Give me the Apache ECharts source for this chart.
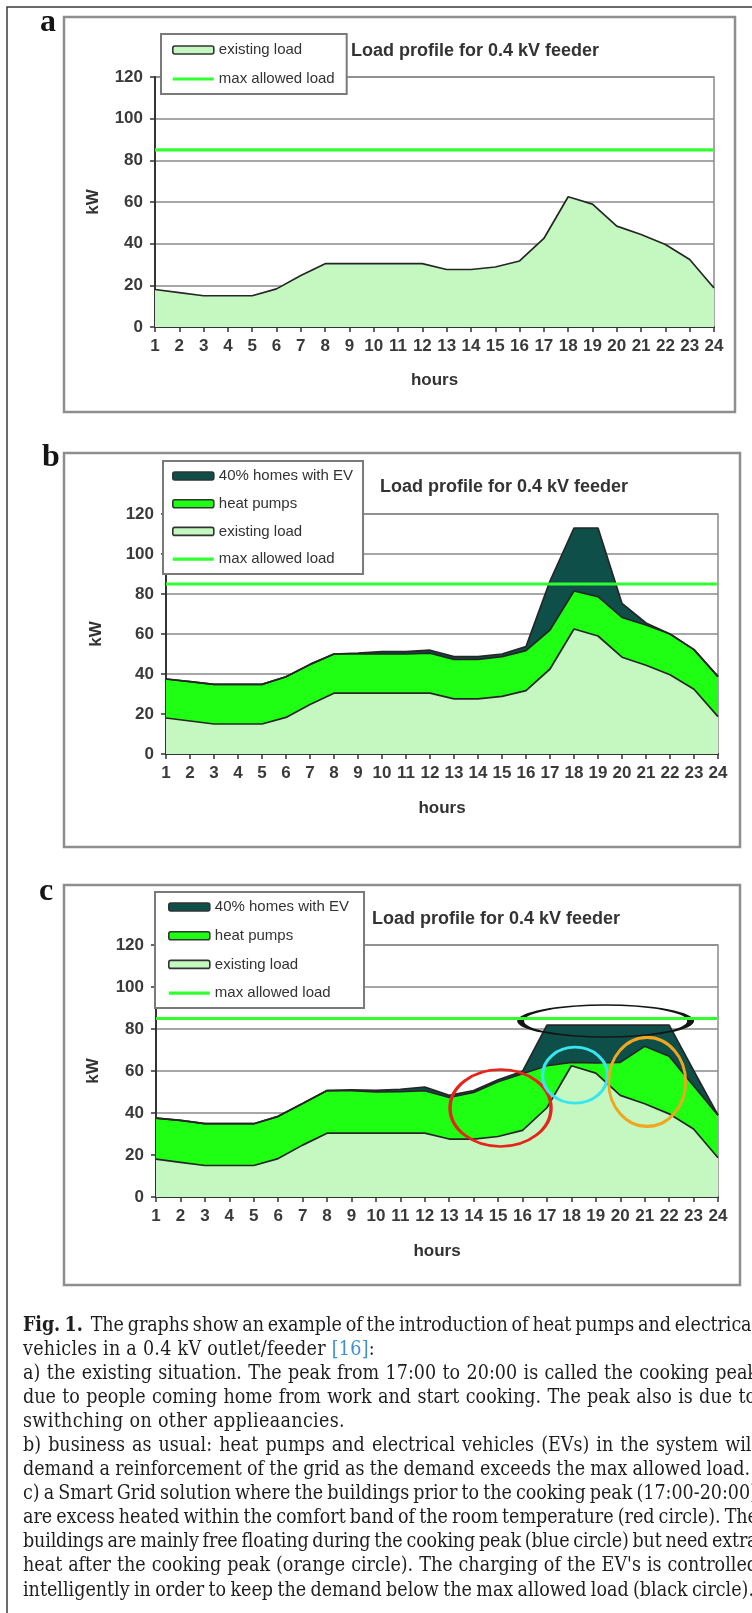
<!DOCTYPE html>
<html><head><meta charset="utf-8">
<script src="https://cdn.jsdelivr.net/npm/echarts@6/dist/echarts.min.js"></script>
<style>
html,body{margin:0;padding:0;width:752px;height:1613px;overflow:hidden;background:#fff;}
#chart{position:absolute;left:0;top:0;width:752px;height:1613px;}
#caption{position:absolute;left:23px;top:1312.5px;font-family:'DejaVu Serif Condensed','DejaVu Serif','Liberation Serif',serif;font-stretch:condensed;font-size:19.5px;color:#1e1e1e;}
#caption .ln{height:24.1px;line-height:24.1px;white-space:nowrap;}
#caption .ln span.t{display:inline-block;}
#caption .ref{color:#3f8fd2;}
</style></head><body>
<div id="chart"></div>
<div id="caption"></div>
<script>
// ---------------- data ----------------
const hours = ['1','2','3','4','5','6','7','8','9','10','11','12','13','14','15','16','17','18','19','20','21','22','23','24'];
const existingLoad = [18, 16.5, 15, 15, 15, 18.3, 24.7, 30.4, 30.4, 30.4, 30.4, 30.4, 27.6, 27.6, 28.8, 31.7, 42.5, 62.5, 59, 48.4, 44.4, 39.6, 32.4, 18.7];
const heatPumpsB  = [19.5, 19.7, 19.8, 19.8, 19.8, 20.3, 20.1, 19.6, 19.6, 19.6, 19.6, 20, 19.7, 19.7, 19.9, 20, 19.5, 19, 19.7, 19.9, 20.1, 20.4, 19.8, 20];
const evB         = [0, 0, 0, 0, 0, 0, 0, 0, 0.5, 1.2, 1.2, 1.5, 1.4, 1.4, 1.3, 2, 24.5, 31.5, 34.3, 7, 1, 0, 0, 0];
const heatPumpsC  = [19.6, 20, 19.9, 19.9, 19.9, 20.1, 19.8, 20.3, 20.3, 19.6, 19.8, 20.2, 19.8, 22.2, 26.1, 27, 20, 1.6, 4.8, 15.7, 27.4, 27.4, 20.6, 20.3];
const evC         = [0, 0, 0, 0, 0, 0, 0, 0, 0.3, 0.8, 1.1, 1.7, 1, 0.9, 0.9, 1.1, 19.3, 17.7, 18, 17.7, 10, 14.8, 7.3, 0];
const maxLoad     = [85, 85, 85, 85, 85, 85, 85, 85, 85, 85, 85, 85, 85, 85, 85, 85, 85, 85, 85, 85, 85, 85, 85, 85];
const yTicks = [0, 20, 40, 60, 80, 100, 120];
// annotation ellipses in chart c: centre [hour, kW], size [w, h] px
const circleNames = ['red', 'blue', 'orange', 'black'];
const circleAt = [[15.1, 42.4], [18.15, 58], [21.1, 54.8], [19.4, 83.8]];
const circleSize = [[101, 77], [65, 56], [77, 89], [170, 32]];
const circleColor = ['#e8231c', '#38e6f0', '#efa620', '#151515'];
const panelLetters = ['a', 'b', 'c'];
const chartTitle = 'Load profile for 0.4 kV feeder';
const names = {ex: 'existing load', hp: 'heat pumps', ev: '40% homes with EV', max: 'max allowed load'};

const captionLines = [
  '<b>Fig.&nbsp;1.</b>&nbsp; The graphs show an example of the introduction of heat pumps and electrical',
  'vehicles in a 0.4 kV outlet/feeder <span class="ref">[16]</span>:',
  'a) the existing situation. The peak from 17:00 to 20:00 is called the cooking peak',
  'due to people coming home from work and start cooking. The peak also is due to',
  'swithching on other applieaancies.',
  'b) business as usual: heat pumps and electrical vehicles (EVs) in the system will',
  'demand a reinforcement of the grid as the demand exceeds the max allowed load.',
  'c) a Smart Grid solution where the buildings prior to the cooking peak (17:00-20:00)',
  'are excess heated within the comfort band of the room temperature (red circle). The',
  'buildings are mainly free floating during the cooking peak (blue circle) but need extra',
  'heat after the cooking peak (orange circle). The charging of the EV\'s is controlled',
  'intelligently in order to keep the demand below the max allowed load (black circle).'
];
const captionWidths = [734, 352, 735, 733, 322, 734, 727, 734, 735, 734, 735, 731];
const captionJustify = [1, 0, 1, 1, 0, 1, 1, 1, 1, 1, 1, 1];

// ---------------- styles ----------------
const FONT = "'Liberation Sans', Arial, sans-serif";
const C_EX = '#c5f8c0', C_HP = '#1eff14', C_EV = '#0f4f49', C_MAX = '#30ff30';
const EDGE = '#262626';

const grids = [
  {left: 155, top: 77, width: 559, height: 250},
  {left: 166, top: 514, width: 552, height: 240},
  {left: 156, top: 945, width: 562, height: 252}
];
const yNameGap = [53, 61, 54];
const xNameGap = [45, 46, 46];

function xAxis(i) {
  return {
    type: 'category', gridIndex: i, data: hours, boundaryGap: false,
    name: 'hours', nameLocation: 'middle', nameGap: xNameGap[i],
    nameTextStyle: {fontFamily: FONT, fontSize: 17, fontWeight: 'bold', color: '#333'},
    axisLine: {show: true, lineStyle: {color: '#333', width: 2}},
    axisTick: {show: true, interval: 0, length: 5, lineStyle: {color: '#333', width: 1.5}},
    axisLabel: {interval: 0, margin: 11, fontFamily: FONT, fontSize: 17, fontWeight: 'bold', color: '#3a3a3a'},
    splitLine: {show: false}
  };
}
function yAxis(i) {
  return {
    type: 'value', gridIndex: i, min: yTicks[0], max: yTicks[yTicks.length - 1], interval: yTicks[1] - yTicks[0],
    name: 'kW', nameLocation: 'middle', nameRotate: 90, nameGap: yNameGap[i],
    nameTextStyle: {fontFamily: FONT, fontSize: 17, fontWeight: 'bold', color: '#333'},
    axisLine: {show: true, lineStyle: {color: '#333', width: 2}},
    axisTick: {show: true, length: 5, lineStyle: {color: '#333', width: 1.5}},
    axisLabel: {margin: 12, fontFamily: FONT, fontSize: 17, fontWeight: 'bold', color: '#3a3a3a'},
    splitLine: {show: true, lineStyle: {color: '#8a8a8a', width: 1.5}}
  };
}
function area(i, name, data, color) {
  return {
    type: 'line', name: name, xAxisIndex: i, yAxisIndex: i, data: data, stack: 'stack' + i,
    symbol: 'none', silent: true,
    lineStyle: {color: EDGE, width: 1.7},
    itemStyle: {color: color},
    areaStyle: {color: color, opacity: 1}
  };
}
function maxLine(i) {
  return {
    type: 'line', name: names.max, xAxisIndex: i, yAxisIndex: i, data: maxLoad,
    symbol: 'none', silent: true, z: 5,
    lineStyle: {color: C_MAX, width: 3.2},
    itemStyle: {color: C_MAX}
  };
}
const legendItems = {
  ex: {name: names.ex, icon: 'roundRect', itemStyle: {color: C_EX, borderColor: '#333', borderWidth: 1.6}},
  hp: {name: names.hp, icon: 'roundRect', itemStyle: {color: C_HP, borderColor: '#333', borderWidth: 1.6}},
  ev: {name: names.ev, icon: 'roundRect', itemStyle: {color: C_EV, borderColor: '#333', borderWidth: 1.6}},
  max: {name: names.max, icon: 'path://M0,0H40V3H0Z', itemStyle: {color: C_MAX, borderWidth: 0}}
};
function legend(left, top, padding, gap, items) {
  return {
    left: left, top: top, orient: 'vertical', padding: padding, itemGap: gap,
    itemWidth: 41, itemHeight: 8, backgroundColor: '#fff', borderColor: '#7a7a7a', borderWidth: 2,
    selectedMode: false,
    textStyle: {fontFamily: FONT, fontSize: 15, color: '#333'},
    data: items.map(k => legendItems[k])
  };
}
const titleStyle = {fontFamily: FONT, fontSize: 18, fontWeight: 'bold', color: '#333'};

const boxes = [
  {x: 64, y: 17, width: 671, height: 395},
  {x: 64, y: 453, width: 676, height: 394},
  {x: 64, y: 885, width: 676, height: 400}
];
const letterPos = [[40, 23], [42, 458], [39, 892]];

const graphic = [
  {type: 'rect', silent: true, z: -10, shape: {x: 7, y: 7, width: 820, height: 1700},
   style: {fill: 'none', stroke: '#3a3a3a', lineWidth: 1.5}}
];
boxes.forEach(b => graphic.push({type: 'rect', silent: true, z: -9, shape: b,
  style: {fill: 'none', stroke: '#8e8e8e', lineWidth: 2.5}}));
panelLetters.forEach((l, i) => graphic.push({type: 'text', silent: true, z: 10,
  style: {text: l, x: letterPos[i][0], y: letterPos[i][1], font: "bold 32px 'Liberation Serif', serif",
          fill: '#151515', verticalAlign: 'middle'}}));

const chart = echarts.init(document.getElementById('chart'), null, {renderer: 'canvas', width: 752, height: 1613});
chart.setOption({
  animation: false,
  backgroundColor: '#fff',
  title: [
    {text: chartTitle, left: 351, top: 42, padding: 0, textStyle: titleStyle},
    {text: chartTitle, left: 380, top: 478, padding: 0, textStyle: titleStyle},
    {text: chartTitle, left: 372, top: 910, padding: 0, textStyle: titleStyle}
  ],
  legend: [
    legend(161, 34, [8.5, 12, 7.5, 11], 14, ['ex', 'max']),
    legend(163, 461, [7.5, 10, 7.5, 9], 12.7, ['ev', 'hp', 'ex', 'max']),
    legend(155, 892, [7.5, 15, 7.5, 13], 13.7, ['ev', 'hp', 'ex', 'max'])
  ],
  grid: grids.map(g => Object.assign({show: true, borderColor: '#8a8a8a', borderWidth: 1.5, backgroundColor: 'transparent'}, g)),
  xAxis: [xAxis(0), xAxis(1), xAxis(2),
    // hidden hour scale on panel c for the annotation ellipses
    {type: 'value', gridIndex: 2, min: 1, max: 24, show: false}],
  yAxis: [yAxis(0), yAxis(1), yAxis(2)],
  series: [
    area(0, names.ex, existingLoad, C_EX),
    maxLine(0),
    area(1, names.ex, existingLoad, C_EX),
    area(1, names.hp, heatPumpsB, C_HP),
    area(1, names.ev, evB, C_EV),
    maxLine(1),
    area(2, names.ex, existingLoad, C_EX),
    area(2, names.hp, heatPumpsC, C_HP),
    area(2, names.ev, evC, C_EV),
    maxLine(2),
    {
      type: 'scatter', name: 'annotations', xAxisIndex: 3, yAxisIndex: 2, data: [], silent: true, z: 6,
      markPoint: {
        symbol: 'circle', silent: true, label: {show: false},
        data: circleNames.map((n, k) => ({name: n, coord: circleAt[k], symbolSize: circleSize[k],
          itemStyle: {color: 'rgba(0,0,0,0)', borderColor: circleColor[k], borderWidth: 3}}))
      }
    }
  ],
  graphic: graphic
});

// ---------------- caption ----------------
const cap = document.getElementById('caption');
cap.innerHTML = captionLines.map(l => '<div class="ln"><span class="t">' + l + '</span></div>').join('');
cap.querySelectorAll('span.t').forEach((s, i) => {
  const target = captionWidths[i];
  const w = s.getBoundingClientRect().width;
  const txt = s.textContent;
  const n = (txt.match(/[ \u00a0]/g) || []).length;
  if (captionJustify[i] && n > 0) {
    let ws = (target - w) / n;
    if (ws < -1.5) {
      const ls = ((target - w) + 1.5 * n) / txt.length;
      s.style.letterSpacing = ls + 'px';
      ws = -1.5;
    } else if (ws > 3) {
      const ls = ((target - w) - 3 * n) / txt.length;
      s.style.letterSpacing = ls + 'px';
      ws = 3;
    }
    s.style.wordSpacing = ws + 'px';
  } else {
    s.style.letterSpacing = ((target - w) / txt.length) + 'px';
  }
});
</script>
</body></html>
